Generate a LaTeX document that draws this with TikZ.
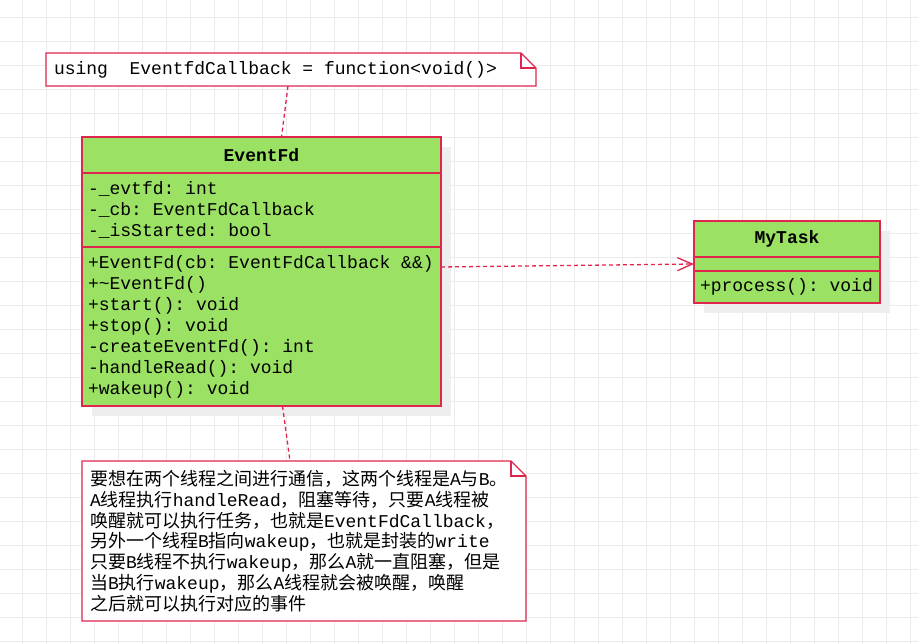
\documentclass[tikz,border=0pt]{standalone}
\usepackage{fontspec}
\setmonofont{Liberation Mono}
\newfontfamily\cjk{Noto Sans CJK SC}
\usetikzlibrary{positioning,arrows.meta,shadows}
\definecolor{umlgreen}{HTML}{9BE264}
\definecolor{umlred}{HTML}{E0264E}
\definecolor{gridgray}{HTML}{EBEBEB}
\definecolor{shadowgray}{HTML}{EEEEEE}
\newcommand{\zh}[1]{{\cjk #1}}
\tikzstyle{every node}=[font=\ttfamily\fontsize{18}{21}\selectfont, execute at begin node={\spaceskip=0.6em\xspaceskip=0.6em\relax}]
\tikzstyle{umlbox}=[draw=umlred, fill=umlgreen, line width=1.3pt, outer sep=0pt, inner xsep=6pt, inner ysep=0pt, drop shadow={shadow xshift=10pt, shadow yshift=-10pt, fill=shadowgray, opacity=1}]
\tikzstyle{classname}=[umlbox, align=center, minimum height=36pt, font=\ttfamily\bfseries\fontsize{18}{21}\selectfont]
\tikzstyle{members}=[umlbox, align=left]
\tikzstyle{note}=[fill=white, outer sep=0pt, inner xsep=8pt, inner ysep=0pt, align=left, anchor=north west]
\tikzstyle{notefold}=[draw=umlred, line width=1.3pt, line join=miter]
\tikzstyle{link}=[draw=umlred, line width=1.3pt, dash pattern=on 4pt off 3pt]

\begin{document}
\begin{tikzpicture}[x=1pt,y=-1pt]
			\useasboundingbox (0,0) rectangle (918,644);
			\foreach \gx in {0,...,37}
				\draw[gridgray, line width=1pt] (22.3+24*\gx,0) -- (22.3+24*\gx,644);
			\foreach \gy in {0,...,26}
				\draw[gridgray, line width=1pt] (0,17.3+24*\gy) -- (918,17.3+24*\gy);

			\node[note, text width=474pt, minimum height=33pt] (usingnote) at (46,53) {using~~EventfdCallback = function<void()>};
			\draw[notefold] (usingnote.south west) -- (usingnote.north west) -- ([xshift=-15pt]usingnote.north east) -- ([yshift=-15pt]usingnote.north east) -- (usingnote.south east) -- cycle;
			\draw[notefold] ([xshift=-15pt]usingnote.north east) -- ([xshift=-15pt,yshift=-15pt]usingnote.north east) -- ([yshift=-15pt]usingnote.north east);

			\node[classname, text width=347pt, anchor=north west] (fdname) at (82,137) {EventFd};
			\node[members, text width=347pt, minimum height=74pt, below=0pt of fdname] (fdattr) {-\_evtfd: int\\-\_cb: EventFdCallback\\-\_isStarted: bool};
			\node[members, text width=347pt, minimum height=159pt, below=0pt of fdattr] (fdops) {+EventFd(cb: EventFdCallback \&\&)\\+\textasciitilde EventFd()\\+start(): void\\+stop(): void\\-createEventFd(): int\\-handleRead(): void\\+wakeup(): void};

			\node[classname, text width=174pt, anchor=north west] (taskname) at (694,221) {MyTask};
			\node[members, text width=174pt, minimum height=14pt, below=0pt of taskname] (taskattr) {};
			\node[members, text width=174pt, minimum height=32pt, below=0pt of taskattr] (taskops) {+process(): void};

			\node[note, text width=428pt, minimum height=160pt, font=\ttfamily\fontsize{18}{20.8}\selectfont] (eventnote) at (82,461) {\zh{要想在两个线程之间进行通信，这两个线程是}A\zh{与}B\zh{。}\\A\zh{线程执行}handleRead\zh{，阻塞等待，只要}A\zh{线程被}\\\zh{唤醒就可以执行任务，也就是}EventFdCallback\zh{，}\\\zh{另外一个线程}B\zh{指向}wakeup\zh{，也就是封装的}write\\\zh{只要}B\zh{线程不执行}wakeup\zh{，那么}A\zh{就一直阻塞，但是}\\\zh{当}B\zh{执行}wakeup\zh{，那么}A\zh{线程就会被唤醒，唤醒}\\\zh{之后就可以执行对应的事件}};
			\draw[notefold] (eventnote.south west) -- (eventnote.north west) -- ([xshift=-15pt]eventnote.north east) -- ([yshift=-15pt]eventnote.north east) -- (eventnote.south east) -- cycle;
			\draw[notefold] ([xshift=-15pt]eventnote.north east) -- ([xshift=-15pt,yshift=-15pt]eventnote.north east) -- ([yshift=-15pt]eventnote.north east);

			\path[link]
			([xshift=-3pt]usingnote.south)	edge	([xshift=20pt]fdname.north)
			([xshift=21pt]fdops.south)	edge	([xshift=-14pt]eventnote.north)
			([yshift=-20pt]fdops.north east)	edge [-{Straight Barb[length=15pt,width=13pt]}]	(taskattr.west);
		\end{tikzpicture}
\end{document}
